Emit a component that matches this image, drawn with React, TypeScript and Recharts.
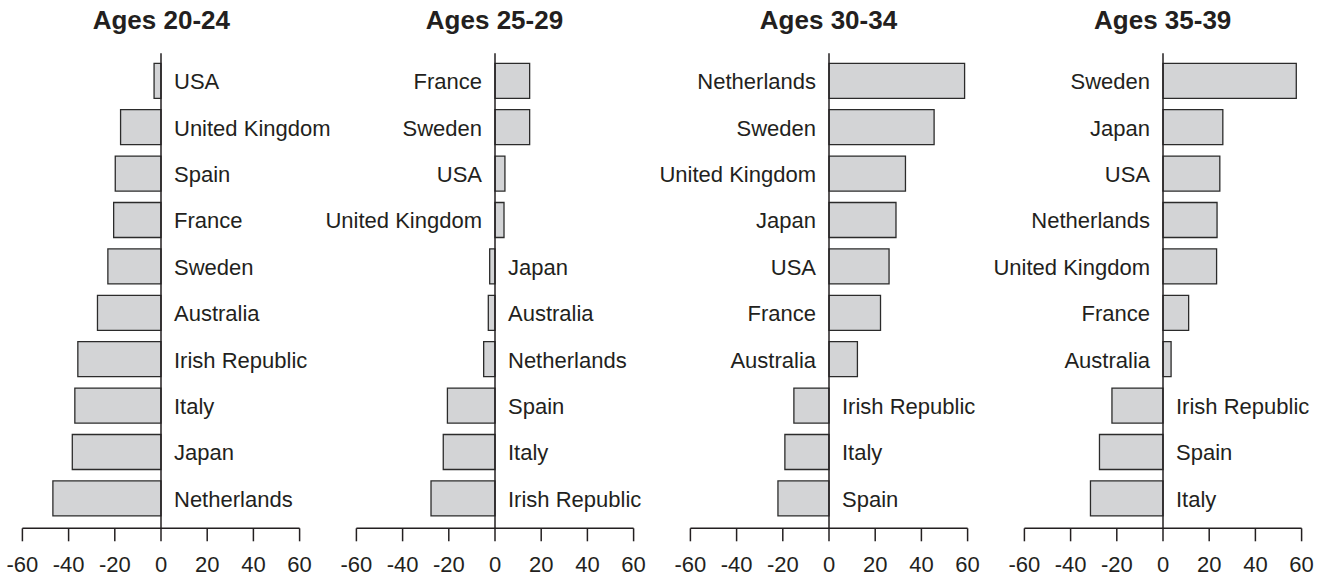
import { Bar, BarChart, LabelList, ReferenceLine, XAxis, YAxis } from 'recharts'

const titles = ['Ages 20-24', 'Ages 25-29', 'Ages 30-34', 'Ages 35-39']

const countries2024 = ['USA', 'United Kingdom', 'Spain', 'France', 'Sweden', 'Australia', 'Irish Republic', 'Italy', 'Japan', 'Netherlands']
const values2024 = [-3, -17.5, -19.8, -20.5, -23, -27.5, -36, -37.3, -38.4, -46.8]

const countries2529 = ['France', 'Sweden', 'USA', 'United Kingdom', 'Japan', 'Australia', 'Netherlands', 'Spain', 'Italy', 'Irish Republic']
const values2529 = [15, 15, 4.3, 3.9, -2.3, -2.9, -4.9, -20.6, -22.4, -27.7]

const countries3034 = ['Netherlands', 'Sweden', 'United Kingdom', 'Japan', 'USA', 'France', 'Australia', 'Irish Republic', 'Italy', 'Spain']
const values3034 = [58.7, 45.5, 33.1, 29, 26, 22.3, 12.3, -15.2, -19.1, -22.1]

const countries3539 = ['Sweden', 'Japan', 'USA', 'Netherlands', 'United Kingdom', 'France', 'Australia', 'Irish Republic', 'Spain', 'Italy']
const values3539 = [57.7, 25.9, 24.6, 23.4, 23.2, 11.1, 3.5, -22.1, -27.5, -31.4]

const xTicks = [-60, -40, -20, 0, 20, 40, 60]

const panelCountries = [countries2024, countries2529, countries3034, countries3539]
const panelValues = [values2024, values2529, values3034, values3539]

const FONT = '"Liberation Sans", Arial, Helvetica, sans-serif'
const INK = '#231f20'
const CHART_W = 400
const CHART_H = 578
// page x of each panel's zero line
const zeroX = [161.3, 494.5, 828.5, 1162.7]

type Row = { country: string; value: number }

const Panel = ({ title, rows, left }: { title: string; rows: Row[]; left: number }) => {
  const renderLabel = (props: any) => {
    const { x, y, width, height, value } = props
    const row = rows.find((r) => r.country === value)
    const l = Math.min(x, x + width)
    const r = Math.max(x, x + width)
    const positive = row ? row.value >= 0 : width >= 0
    const zero = positive ? l : r
    return (
      <text
        x={positive ? zero - 13 : zero + 13}
        y={y + height / 2 + 8.3}
        textAnchor={positive ? 'end' : 'start'}
        fontSize={22}
        fontFamily={FONT}
        fill={INK}
      >
        {value}
      </text>
    )
  }

  return (
    <div style={{ position: 'absolute', left, top: 0, width: CHART_W, height: CHART_H }}>
      <div
        style={{
          position: 'absolute',
          top: 7,
          left: 0,
          width: CHART_W,
          textAlign: 'center',
          fontFamily: FONT,
          fontWeight: 'bold',
          fontSize: 26,
          lineHeight: '26px',
          color: INK,
        }}
      >
        {title}
      </div>
      <BarChart
        width={CHART_W}
        height={CHART_H}
        data={rows}
        layout="vertical"
        margin={{ top: 53.3, right: 61.4, bottom: 0, left: 61.4 }}
        style={{ position: 'absolute', left: 0, top: 0 }}
      >
        <XAxis
          type="number"
          dataKey="value"
          domain={[-60, 60]}
          ticks={xTicks}
          interval={0}
          height={49.7}
          tickSize={13}
          tickMargin={15}
          axisLine={{ stroke: INK, strokeWidth: 1.5 }}
          tickLine={{ stroke: INK, strokeWidth: 1.5 }}
          tick={{ fill: INK, fontSize: 22, fontFamily: FONT }}
          allowDataOverflow
        />
        <YAxis type="category" dataKey="country" hide padding={{ top: 4, bottom: 7 }} />
        <Bar
          dataKey="value"
          barSize={35}
          fill="#d3d4d6"
          stroke="#2b2b2b"
          strokeWidth={1.3}
          isAnimationActive={false}
        >
          <LabelList dataKey="country" content={renderLabel} />
        </Bar>
        <ReferenceLine x={0} stroke={INK} strokeWidth={1.5} />
      </BarChart>
    </div>
  )
}

export default function App() {
  return (
    <div
      style={{
        position: 'absolute',
        left: 0,
        top: 0,
        width: 1327,
        height: 578,
        overflow: 'hidden',
        background: '#fff',
      }}
    >
      {titles.map((title, i) => {
        const rows: Row[] = panelCountries[i].map((c, j) => ({ country: c, value: panelValues[i][j] }))
        return <Panel key={title} title={title} rows={rows} left={zeroX[i] - CHART_W / 2} />
      })}
    </div>
  )
}
